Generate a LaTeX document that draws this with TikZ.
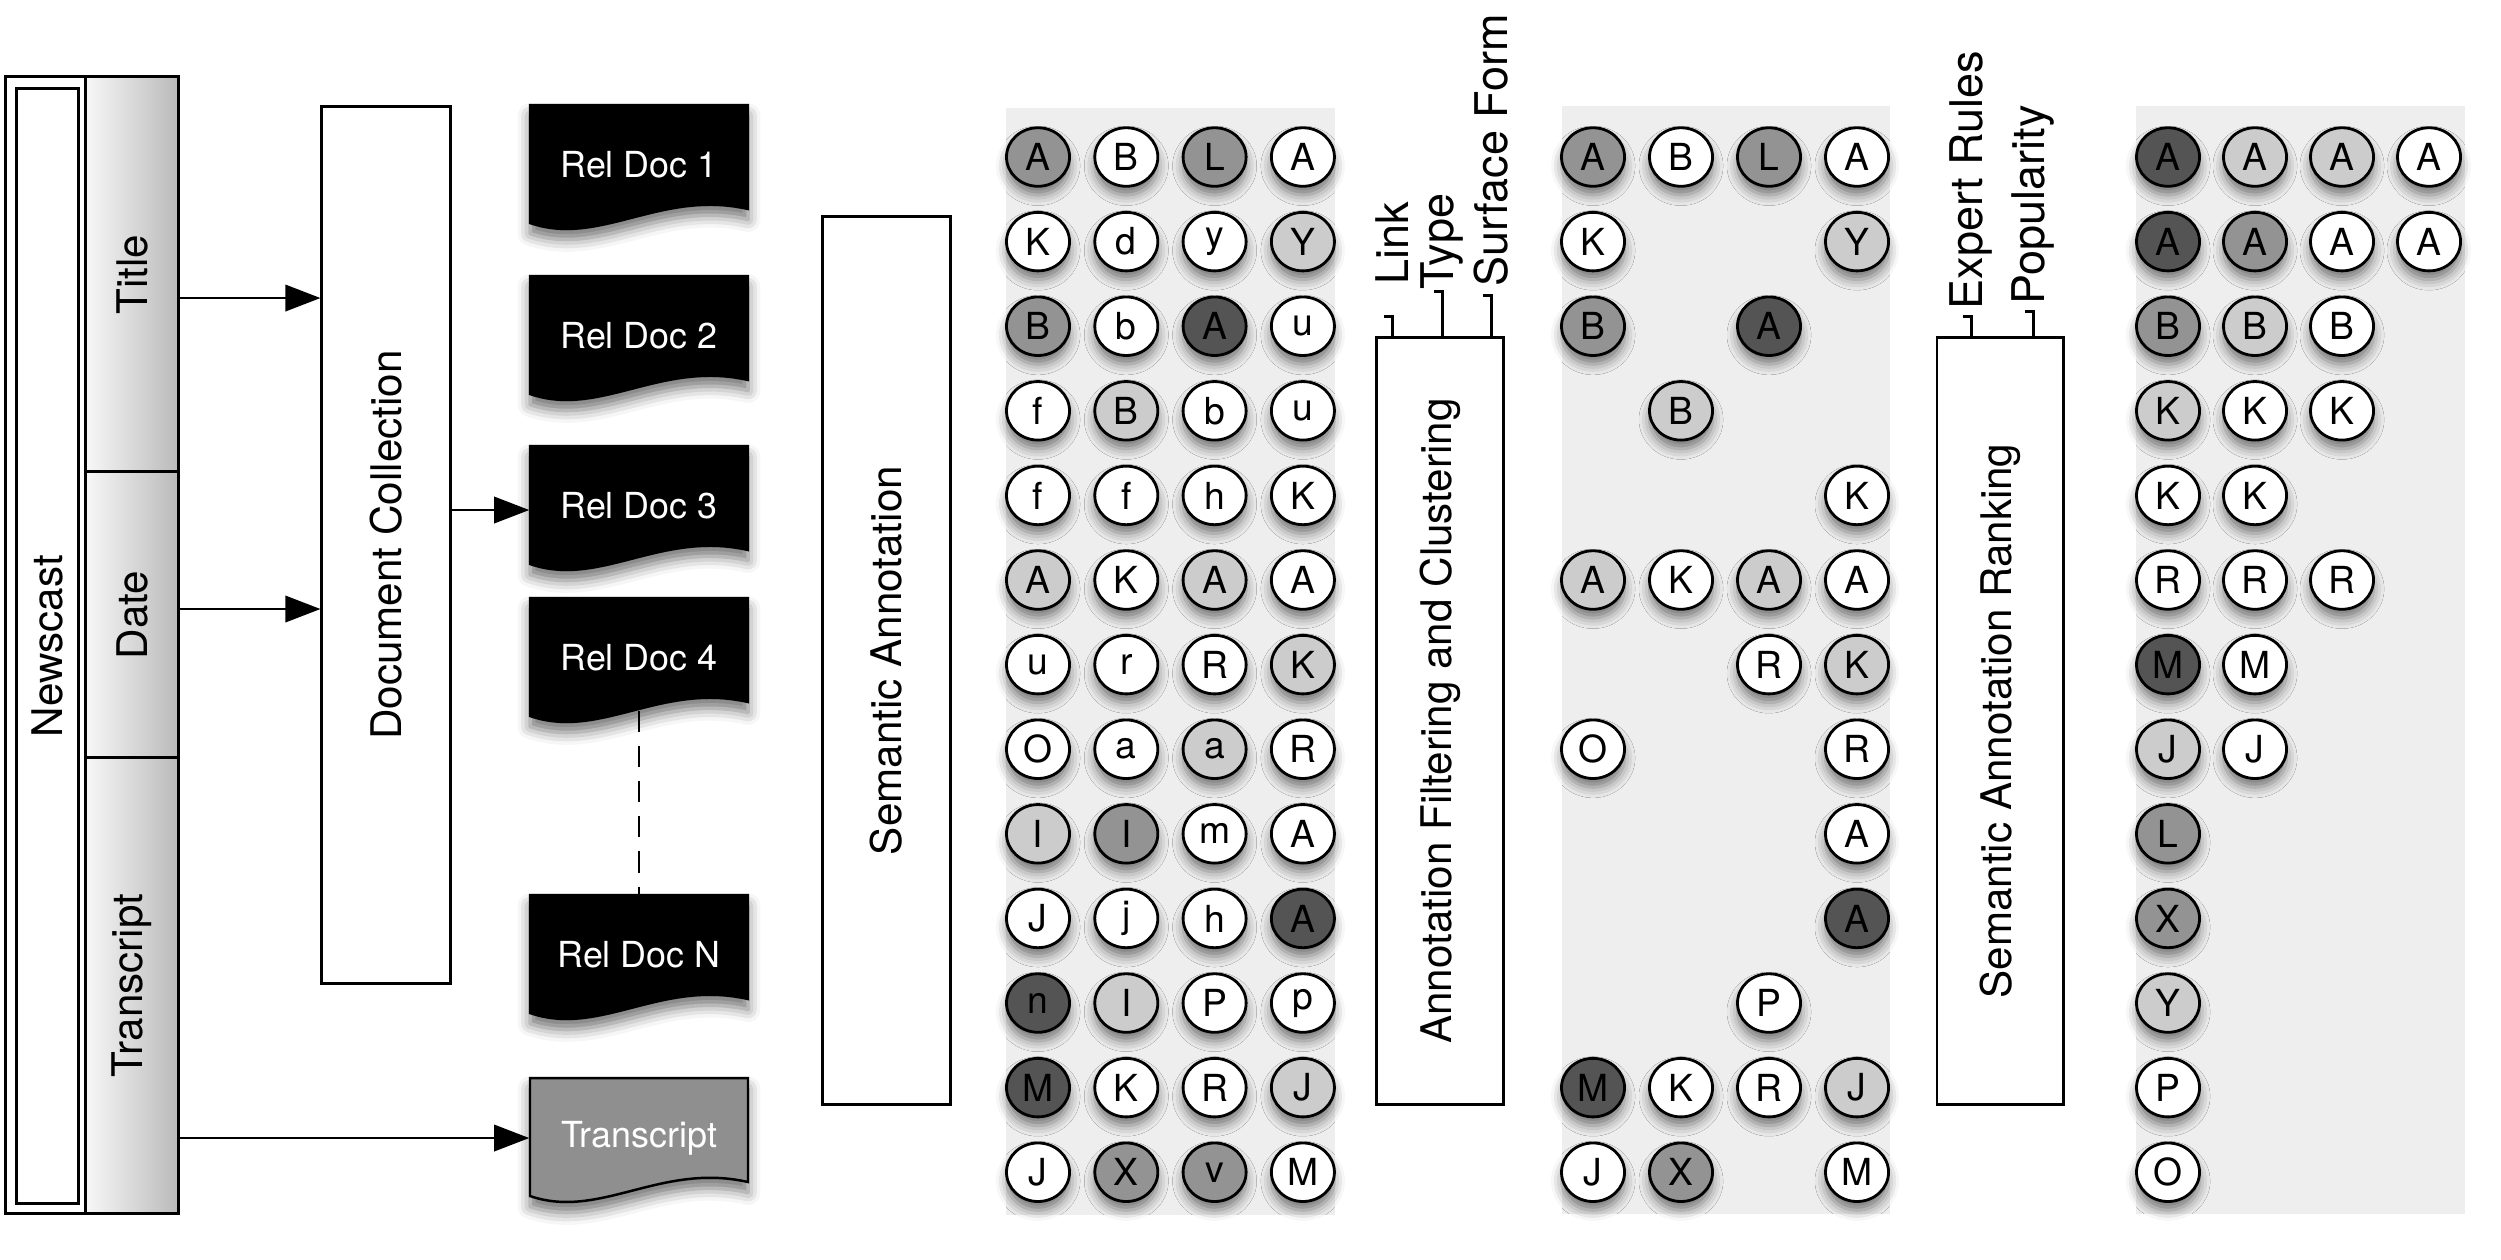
\documentclass[tikz,border=0pt]{standalone}
\usepackage{fontspec}
\setmainfont{TeX Gyre Heros}
\usetikzlibrary{arrows.meta,shapes.geometric,shadows.blur}
\definecolor{cD}{HTML}{545454}
\definecolor{cM}{HTML}{939393}
\definecolor{cL}{HTML}{CCCCCC}
\definecolor{cW}{HTML}{FFFFFF}
\definecolor{gridbg}{HTML}{EEEEEE}
\definecolor{docgray}{HTML}{8F8F8F}
\tikzset{
  lw/.style={line width=0.85pt},
  biglabel/.style={font=\fontsize{12}{14}\selectfont, rotate=90, inner sep=0pt},
  ticklabel/.style={font=\fontsize{12.8}{15}\selectfont, rotate=90, anchor=west, inner sep=0pt},
  procbox/.style={draw, lw, fill=white, inner sep=0pt},
  fieldbox/.style={draw, lw, left color=black!3, right color=black!27, inner sep=0pt, minimum width=0.92cm},
  arr/.style={line width=0.75pt, -{Triangle[length=10pt,width=7.5pt,fill=black]}},
  tickline/.style={line width=0.85pt},
  bubble/.style={ellipse, draw, line width=0.8pt, minimum width=0.63cm, minimum height=0.585cm, inner sep=0pt,
     font=\fontsize{10.6}{12}\selectfont,
     blur shadow={shadow xshift=0pt, shadow yshift=-2.5pt, shadow blur radius=3pt, shadow opacity=50}},
  docanchor/.style={inner sep=0pt, minimum width=2.18cm, minimum height=1.2cm, font=\fontsize{10.2}{12}\selectfont},
  docbody/.style={draw, line width=0.7pt, blur shadow={shadow xshift=0pt, shadow yshift=-3pt, shadow blur radius=3.5pt, shadow opacity=55}},
}
\newcommand{\docshape}[5]{%
  \path[docbody, fill=#3] (530,#2) -- (748,#2) -- (748,{#2+104})
     .. controls (661,{#2+84}) and (600,{#2+142}) .. (530,{#2+118}) -- cycle;
  \node[docanchor, text=#4] (#1) at (639,{#2+60}) {#5};
}
\begin{document}
\begin{tikzpicture}[x=0.01cm,y=-0.01cm]
\useasboundingbox (0,0) rectangle (2501,1259);

% ---- Newscast ----
\node[draw, lw, minimum width=0.79cm, minimum height=11.36cm, inner sep=0pt] (nco) at (45.5,645) {};
\node[draw, lw, minimum width=0.61cm, minimum height=11.14cm, inner sep=0pt] (nci) at (47.5,646) {};
\node[biglabel] (ncl) at (nci.center) {Newscast};

\node[fieldbox, minimum height=3.95cm] (title) at (132,274.5) {};
\node[fieldbox, minimum height=2.86cm] (date) at (132,615) {};
\node[fieldbox, minimum height=4.55cm] (trans) at (132,985.5) {};
\node[biglabel] (titlel) at (title.center) {Title};
\node[biglabel] (datel) at (date.center) {Date};
\node[biglabel] (transl) at (trans.center) {Transcript};

% ---- Document collection ----
\node[procbox, minimum width=1.28cm, minimum height=8.76cm] (dc) at (386,545) {};
\node[biglabel] (dcl) at (dc.center) {Document Collection};

% ---- Documents ----
\docshape{rd1}{105}{black}{white}{Rel Doc 1}
\docshape{rd2}{276}{black}{white}{Rel Doc 2}
\docshape{rd3}{446}{black}{white}{Rel Doc 3}
\docshape{rd4}{598}{black}{white}{Rel Doc 4}
\docshape{rdn}{895}{black}{white}{Rel Doc N}
\docshape{td}{1078}{docgray}{white}{Transcript}

\draw[line width=0.8pt, dash pattern=on 6pt off 4pt] ([yshift=0.08cm]rd4.south) -- (rdn.north);

% ---- Arrows ----
\coordinate (ta) at ([yshift=-0.235cm]title.east);
\draw[arr] (ta) -- (ta -| dc.west);
\coordinate (da) at ([yshift=0.06cm]date.east);
\draw[arr] (da) -- (da -| dc.west);
\draw[arr] (trans.east |- td.west) -- (td.west);
\coordinate (dca) at ([yshift=-0.04cm]rd3.west);
\draw[arr] (dca -| dc.east) -- (dca);

% ---- Semantic annotation ----
\node[procbox, minimum width=1.27cm, minimum height=8.87cm] (sa) at (886.5,660.5) {};
\node[biglabel] (sal) at (sa.center) {Semantic Annotation};

% ---- Filtering ----
\node[procbox, minimum width=1.26cm, minimum height=7.66cm] (fb) at (1440,721) {};
\node[biglabel] (fbl) at (fb.center) {Annotation Filtering and Clustering};
\node[ticklabel] (lnk) at (1392,285) {Link};
\node[ticklabel] (typ) at (1442,290) {Type};
\node[ticklabel] (sfm) at (1491,287) {Surface Form};
\draw[tickline] (lnk.west |- fb.north) -- ++(0,-20) -- ++(-8,0);
\draw[tickline] (typ.west |- fb.north) -- ++(0,-45) -- ++(-8,0);
\draw[tickline] (sfm.west |- fb.north) -- ++(0,-41) -- ++(-8,0);

% ---- Ranking ----
\node[procbox, minimum width=1.26cm, minimum height=7.66cm] (rb) at (2000,721) {};
\node[biglabel] (rbl) at (rb.center) {Semantic Annotation Ranking};
\node[ticklabel] (exr) at (1971,310) {Expert Rules};
\node[ticklabel] (pop) at (2033,305) {Popularity};
\draw[tickline] (exr.west |- rb.north) -- ++(0,-20) -- ++(-8,0);
\draw[tickline] (pop.west |- rb.north) -- ++(0,-25) -- ++(-8,0);

% ---- Grid backgrounds ----
\fill[gridbg] (1006,108) rectangle (1335,1215);
\fill[gridbg] (1562,106) rectangle (1890,1214);
\fill[gridbg] (2136,106) rectangle (2465,1214);

% ---- Grid 1 ----
\foreach \c/\r/\f/\t in {
 1/1/cM/A, 2/1/cW/B, 3/1/cM/L, 4/1/cW/A,
 1/2/cW/K, 2/2/cW/d, 3/2/cW/y, 4/2/cL/Y,
 1/3/cM/B, 2/3/cW/b, 3/3/cD/A, 4/3/cW/u,
 1/4/cW/f, 2/4/cL/B, 3/4/cW/b, 4/4/cW/u,
 1/5/cW/f, 2/5/cW/f, 3/5/cW/h, 4/5/cW/K,
 1/6/cL/A, 2/6/cW/K, 3/6/cL/A, 4/6/cW/A,
 1/7/cW/u, 2/7/cW/r, 3/7/cW/R, 4/7/cL/K,
 1/8/cW/O, 2/8/cW/a, 3/8/cL/a, 4/8/cW/R,
 1/9/cL/I, 2/9/cM/I, 3/9/cW/m, 4/9/cW/A,
 1/10/cW/J, 2/10/cW/j, 3/10/cW/h, 4/10/cD/A,
 1/11/cD/n, 2/11/cL/I, 3/11/cW/P, 4/11/cW/p,
 1/12/cD/M, 2/12/cW/K, 3/12/cW/R, 4/12/cL/J,
 1/13/cW/J, 2/13/cM/X, 3/13/cM/v, 4/13/cW/M}
 {\node[bubble, fill=\f] (ga-\c-\r) at ({1038+88.3*(\c-1)},{157+84.6*(\r-1)}) {\t};}

% ---- Grid 2 ----
\foreach \c/\r/\f/\t in {
 1/1/cM/A, 2/1/cW/B, 3/1/cM/L, 4/1/cW/A,
 1/2/cW/K, 4/2/cL/Y,
 1/3/cM/B, 3/3/cD/A,
 2/4/cL/B,
 4/5/cW/K,
 1/6/cL/A, 2/6/cW/K, 3/6/cL/A, 4/6/cW/A,
 3/7/cW/R, 4/7/cL/K,
 1/8/cW/O, 4/8/cW/R,
 4/9/cW/A,
 4/10/cD/A,
 3/11/cW/P,
 1/12/cD/M, 2/12/cW/K, 3/12/cW/R, 4/12/cL/J,
 1/13/cW/J, 2/13/cM/X, 4/13/cW/M}
 {\node[bubble, fill=\f] (gb-\c-\r) at ({1593+88*(\c-1)},{157+84.6*(\r-1)}) {\t};}

% ---- Grid 3 ----
\foreach \c/\r/\f/\t in {
 1/1/cD/A, 2/1/cL/A, 3/1/cL/A, 4/1/cW/A,
 1/2/cD/A, 2/2/cM/A, 3/2/cW/A, 4/2/cW/A,
 1/3/cM/B, 2/3/cL/B, 3/3/cW/B,
 1/4/cL/K, 2/4/cW/K, 3/4/cW/K,
 1/5/cW/K, 2/5/cW/K,
 1/6/cW/R, 2/6/cW/R, 3/6/cW/R,
 1/7/cD/M, 2/7/cW/M,
 1/8/cL/J, 2/8/cW/J,
 1/9/cM/L, 1/10/cM/X, 1/11/cL/Y, 1/12/cW/P, 1/13/cW/O}
 {\node[bubble, fill=\f] (gc-\c-\r) at ({2168+87*(\c-1)},{157+84.6*(\r-1)}) {\t};}
\end{tikzpicture}
\end{document}
